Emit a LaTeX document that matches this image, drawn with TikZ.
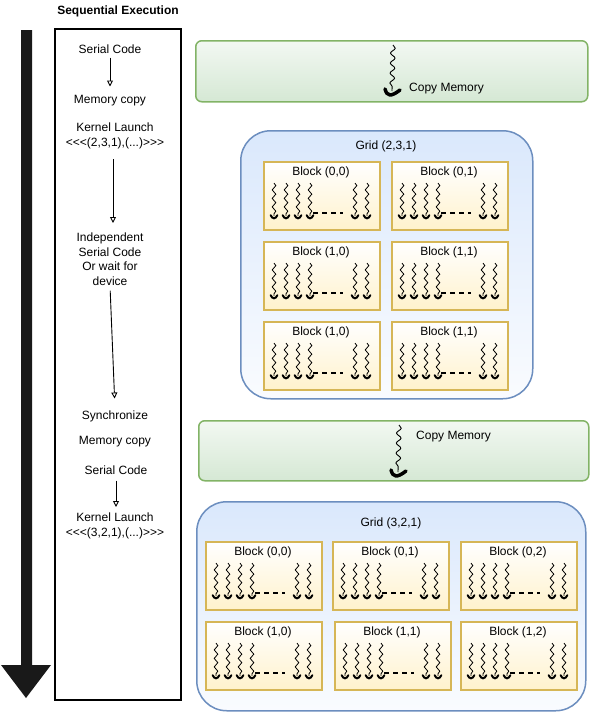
\documentclass[tikz,border=0pt]{standalone}
\usepackage{fontspec}
\setmainfont{Liberation Sans}[Ligatures=TeXOff]
\usetikzlibrary{arrows.meta,decorations.pathmorphing}
\definecolor{gstroke}{HTML}{82B366}
\definecolor{gfill}{HTML}{D5E8D4}
\definecolor{bstroke}{HTML}{6C8EBF}
\definecolor{bfill}{HTML}{DAE8FC}
\definecolor{ystroke}{HTML}{D6B656}
\definecolor{yfill}{HTML}{FFF2CC}
\newcommand\mkthread[3]{% x, ytop, ytip
  \draw[thrline] (#1,#2) -- (#1,#3-3);
  \draw[thrhead] (#1-3.4,#3-3.8) .. controls (#1-1.5,#3+0.3) and (#1+1.5,#3+0.3) .. (#1+3.4,#3-3.8);
}
\newcommand\mkblock[4]{%
  \node[blk, anchor=north west] (#1) at (#2,#3) {};
  \node[txt] (#1-t) at (#2+58,#3+10.5) {#4};
  \foreach \dx in {11,23,35,47,92,104} {\mkthread{#2+\dx}{#3+22}{#3+58}}
  \draw[dots] (#2+50,#3+52) -- (#2+80,#3+52);
}
\begin{document}
\begin{tikzpicture}[x=1pt,y=-1pt,
  txt/.style={font=\fontsize{12pt}{14.5pt}\selectfont, inner sep=0pt, align=center, text height=10.6pt, text depth=2pt},
  mtxt/.style={font=\fontsize{12pt}{14.5pt}\selectfont, inner sep=0pt, align=center},
  flow/.style={line width=0.9pt, -{Triangle[open,length=6pt,width=6pt]}},
  thrline/.style={line width=0.8pt, decorate, decoration={snake, segment length=8.5pt, amplitude=1.8pt, post length=1pt}},
  thrhead/.style={line width=2pt, line cap=round},
  bigline/.style={line width=0.9pt, decorate, decoration={snake, segment length=10pt, amplitude=2.3pt, post length=1pt}},
  bighead/.style={line width=3.5pt, line cap=round},
  dots/.style={line width=1.6pt, dash pattern=on 5pt off 4pt},
  blk/.style={draw=ystroke, line width=1.5pt, top color=white, bottom color=yfill, minimum width=116pt, minimum height=68pt, inner sep=0pt},
  gridbox/.style={draw=bstroke, line width=1.5pt, top color=bfill, bottom color=bfill!15, rounded corners=30pt, inner sep=0pt},
  copybox/.style={draw=gstroke, line width=1.5pt, top color=gfill!30, bottom color=gfill, rounded corners=6pt, inner sep=0pt}
]
\useasboundingbox (0,0) rectangle (591,712);

% big timeline arrow
\fill[black!90] (21,30) -- (32,30) -- (32,665) -- (51,665) -- (26,698) -- (1,665) -- (21,665) -- cycle;

% sequential execution column
\node[font=\fontsize{12pt}{14.5pt}\selectfont\bfseries, inner sep=0pt] (title) at (118,11) {Sequential Execution};
\draw[line width=1.5pt] (55,29) rectangle (181,700);
\node[txt] (ser1) at (110,49) {Serial Code};
\node[txt] (mem1) at (110,99) {Memory copy};
\node[mtxt, anchor=north] (kl1) at (115,123) {Kernel Launch\\<<<(2,3,1),(...)>>>};
\node[mtxt, anchor=north] (ind) at (110,233) {Independent\\Serial Code\\Or wait for\\device};
\node[txt] (sync) at (115,415) {Synchronize};
\node[txt] (mem2) at (115,440) {Memory copy};
\node[txt] (ser2) at (116,470) {Serial Code};
\node[mtxt, anchor=north] (kl2) at (115,513) {Kernel Launch\\<<<(3,2,1),(...)>>>};

\draw[flow] ([yshift=-2pt]ser1.south) -- ([yshift=6pt]mem1.north);
\draw[flow] ([xshift=-2pt,yshift=-10pt]kl1.south) -- ([xshift=3pt,yshift=10pt]ind.north);
\draw[flow, shorten <=5pt, shorten >=10pt] (ind.south) -- (sync.north);
\draw[flow] ([yshift=-4pt]ser2.south) -- ([xshift=1pt,yshift=6pt]kl2.north);

% copy memory boxes
\node[copybox, anchor=north west, minimum width=392pt, minimum height=61pt] (cm1) at (195,40) {};
\coordinate (cm1a) at (393,45);
\coordinate (cm1b) at (392,91);
\draw[bigline] (cm1a) -- (cm1b);
\draw[bighead] (385,89) .. controls (387,96.5) and (391,97) .. (400,90);
\node[txt, anchor=west] (cm1t) at (409,87) {Copy Memory};

\node[copybox, anchor=north west, minimum width=390pt, minimum height=60pt] (cm2) at (198,420) {};
\coordinate (cm2a) at (399,425);
\coordinate (cm2b) at (398,472);
\draw[bigline] (cm2a) -- (cm2b);
\draw[bighead] (391,470) .. controls (393,477.5) and (397,478) .. (406,471);
\node[txt, anchor=west] (cm2t) at (416,435) {Copy Memory};

% grid 1
\node[gridbox, anchor=north west, minimum width=292pt, minimum height=268pt] (g1) at (240,130) {};
\node[txt] (g1t) at (386,145) {Grid (2,3,1)};
\mkblock{a00}{263}{161}{Block (0,0)}
\mkblock{a01}{391}{161}{Block (0,1)}
\mkblock{a10}{263}{241}{Block (1,0)}
\mkblock{a11}{391}{241}{Block (1,1)}
\mkblock{a20}{263}{321}{Block (1,0)}
\mkblock{a21}{391}{321}{Block (1,1)}

% grid 2
\node[gridbox, anchor=north west, minimum width=389pt, minimum height=209pt] (g2) at (196,501) {};
\node[txt] (g2t) at (391,522) {Grid (3,2,1)};
\mkblock{b00}{205}{541}{Block (0,0)}
\mkblock{b01}{332}{541}{Block (0,1)}
\mkblock{b02}{460}{541}{Block (0,2)}
\mkblock{b10}{205}{621}{Block (1,0)}
\mkblock{b11}{334}{621}{Block (1,1)}
\mkblock{b12}{460}{621}{Block (1,2)}
\end{tikzpicture}
\end{document}
